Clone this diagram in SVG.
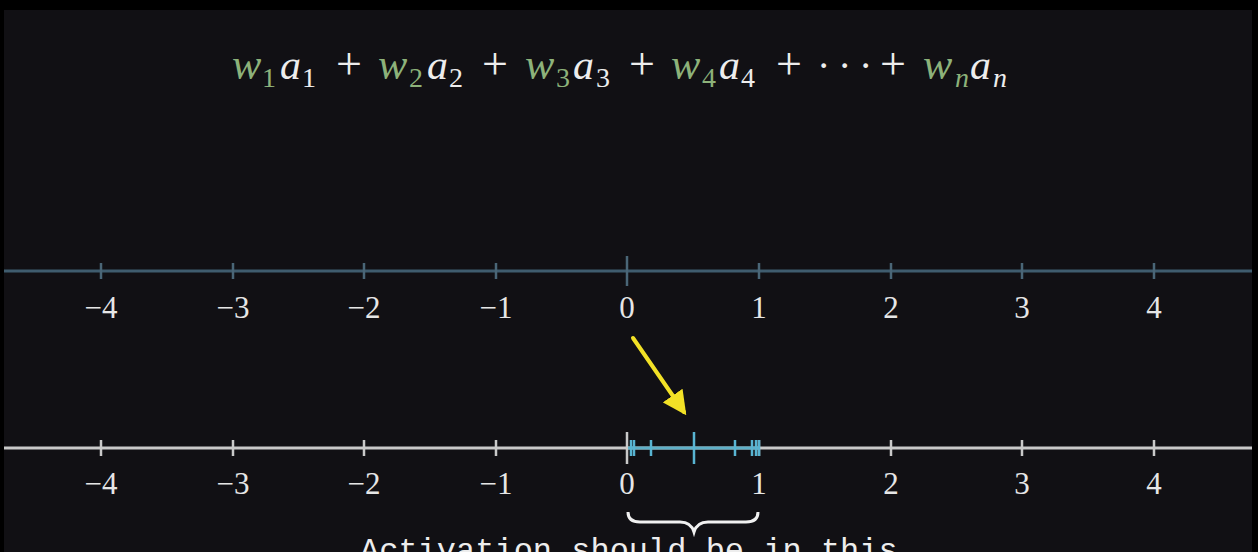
<svg xmlns="http://www.w3.org/2000/svg" width="1258" height="552" viewBox="0 0 1258 552">
<defs>
<style>
.eq{font-family:"Liberation Serif","DejaVu Serif",serif;font-size:40px;fill:#ededed}
.w{fill:#8db27a;font-style:italic;font-size:44px}
.a{font-style:italic;font-size:42px}
.sub{font-size:28px}
.sw{fill:#8db27a}
.p{font-size:46px}
.lbl{font-family:"Liberation Serif","DejaVu Serif",serif;font-size:31px;fill:#e6e6e6;text-anchor:middle}
.tt{stroke:#4a6677;stroke-width:2.5}
.bt{stroke:#c9c9c9;stroke-width:2.5}
.blt{stroke:#58b4d2;stroke-width:2.5}
.cap{font-family:"Liberation Mono","DejaVu Sans Mono",monospace;font-size:32px;fill:#ededed}
</style>
<marker id="ah" markerWidth="6" markerHeight="6" refX="5" refY="3" orient="auto" markerUnits="strokeWidth">
<path d="M0,0 L6,3 L0,6 Z" fill="#f2e126"/>
</marker>
</defs>
<rect x="0" y="0" width="1258" height="552" fill="#000"/>
<rect x="4" y="10" width="1248" height="542" fill="#111014"/>

<g id="equation">
<text class="eq" y="79"><tspan class="w" x="232">w</tspan><tspan class="sub sw" x="262" dy="8">1</tspan><tspan class="a" x="280" dy="-8">a</tspan><tspan class="sub" x="302" dy="8">1</tspan><tspan class="p" x="336" dy="-8">+</tspan><tspan class="w" x="378">w</tspan><tspan class="sub sw" x="409" dy="8">2</tspan><tspan class="a" x="427" dy="-8">a</tspan><tspan class="sub" x="449" dy="8">2</tspan><tspan class="p" x="482" dy="-8">+</tspan><tspan class="w" x="525">w</tspan><tspan class="sub sw" x="556" dy="8">3</tspan><tspan class="a" x="573" dy="-8">a</tspan><tspan class="sub" x="596" dy="8">3</tspan><tspan class="p" x="629" dy="-8">+</tspan><tspan class="w" x="671">w</tspan><tspan class="sub sw" x="702" dy="8">4</tspan><tspan class="a" x="719" dy="-8">a</tspan><tspan class="sub" x="741" dy="8">4</tspan><tspan class="p" x="776" dy="-8">+</tspan><tspan x="817">·</tspan><tspan x="838">·</tspan><tspan x="859">·</tspan><tspan class="p" x="880">+</tspan><tspan class="w" x="923">w</tspan><tspan class="sub w" style="font-size:28px" x="955" dy="8">n</tspan><tspan class="a" x="970" dy="-8">a</tspan><tspan class="sub a" style="font-size:28px" x="993" dy="8">n</tspan></text>
</g>

<g id="top-axis">
<line x1="4" y1="271" x2="1252" y2="271" stroke="#3f5c6e" stroke-width="3"/>
<line class="tt" x1="101" y1="263" x2="101" y2="279"/>
<line class="tt" x1="233" y1="263" x2="233" y2="279"/>
<line class="tt" x1="364" y1="263" x2="364" y2="279"/>
<line class="tt" x1="496" y1="263" x2="496" y2="279"/>
<line class="tt" x1="627" y1="256" x2="627" y2="286"/>
<line class="tt" x1="759" y1="263" x2="759" y2="279"/>
<line class="tt" x1="891" y1="263" x2="891" y2="279"/>
<line class="tt" x1="1022" y1="263" x2="1022" y2="279"/>
<line class="tt" x1="1154" y1="263" x2="1154" y2="279"/>
<text class="lbl" x="101" y="318">−4</text>
<text class="lbl" x="233" y="318">−3</text>
<text class="lbl" x="364" y="318">−2</text>
<text class="lbl" x="496" y="318">−1</text>
<text class="lbl" x="627" y="318">0</text>
<text class="lbl" x="759" y="318">1</text>
<text class="lbl" x="891" y="318">2</text>
<text class="lbl" x="1022" y="318">3</text>
<text class="lbl" x="1154" y="318">4</text>
</g>

<g id="bottom-axis">
<line x1="4" y1="448" x2="1252" y2="448" stroke="#c9c9c9" stroke-width="3"/>
<line class="bt" x1="101" y1="440" x2="101" y2="456"/>
<line class="bt" x1="233" y1="440" x2="233" y2="456"/>
<line class="bt" x1="364" y1="440" x2="364" y2="456"/>
<line class="bt" x1="496" y1="440" x2="496" y2="456"/>
<line class="bt" x1="627" y1="432" x2="627" y2="464"/>
<line class="bt" x1="759" y1="440" x2="759" y2="456"/>
<line class="bt" x1="891" y1="440" x2="891" y2="456"/>
<line class="bt" x1="1022" y1="440" x2="1022" y2="456"/>
<line class="bt" x1="1154" y1="440" x2="1154" y2="456"/>
<text class="lbl" x="101" y="494">−4</text>
<text class="lbl" x="233" y="494">−3</text>
<text class="lbl" x="364" y="494">−2</text>
<text class="lbl" x="496" y="494">−1</text>
<text class="lbl" x="627" y="494">0</text>
<text class="lbl" x="759" y="494">1</text>
<text class="lbl" x="891" y="494">2</text>
<text class="lbl" x="1022" y="494">3</text>
<text class="lbl" x="1154" y="494">4</text>
</g>

<g id="activation-range">
<line x1="628" y1="448" x2="759" y2="448" stroke="#5fb0c8" stroke-width="3"/>
<line class="blt" x1="631" y1="440" x2="631" y2="456"/>
<line class="blt" x1="634" y1="440" x2="634" y2="456"/>
<line class="blt" x1="651" y1="440" x2="651" y2="456"/>
<line class="blt" x1="694" y1="432" x2="694" y2="464"/>
<line class="blt" x1="735" y1="440" x2="735" y2="456"/>
<line class="blt" x1="752" y1="440" x2="752" y2="456"/>
<line class="blt" x1="756" y1="440" x2="756" y2="456"/>
<line class="blt" x1="759" y1="440" x2="759" y2="456"/>
</g>

<g id="connectors">
<line x1="633" y1="338" x2="684" y2="412" stroke="#f2e126" stroke-width="4" stroke-linecap="round" marker-end="url(#ah)"/>
</g>

<g id="brace">
<path d="M628,512 Q628,522 640,522 L680,522 Q691,522 694,532 Q697,522 708,522 L746,522 Q758,522 758,512" fill="none" stroke="#f0f0f0" stroke-width="3"/>
</g>

<g id="caption">
<text class="cap" x="360" y="560">Activation should be in this</text>
</g>
</svg>
